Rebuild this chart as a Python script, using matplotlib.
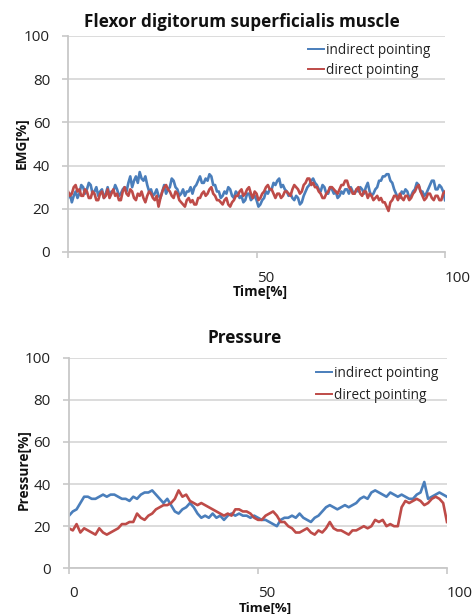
import numpy as np
import matplotlib.pyplot as plt

# EMG traces, sampled every 0.5 % of the movement
emg_indirect = [25, 27, 23, 26, 28, 25, 27, 31, 30, 27, 29, 32, 31, 27, 28, 30, 26, 28, 29, 25,
                27, 30, 26, 28, 28, 31, 29, 26, 27, 29, 30, 28, 32, 35, 30, 33, 35, 32, 37, 34,
                33, 35, 31, 28, 29, 26, 27, 29, 26, 25, 28, 31, 27, 29, 30, 34, 33, 30, 29, 26,
                27, 29, 26, 28, 28, 30, 27, 30, 31, 33, 35, 32, 32, 34, 33, 36, 35, 31, 31, 28,
                28, 25, 26, 28, 27, 30, 29, 26, 25, 28, 27, 25, 26, 23, 24, 27, 27, 24, 25, 26,
                24, 21, 22, 24, 25, 28, 27, 29, 29, 32, 31, 33, 34, 30, 31, 29, 28, 26, 27, 25,
                24, 26, 25, 22, 23, 26, 28, 30, 31, 33, 34, 32, 31, 29, 28, 31, 30, 27, 27, 30,
                29, 27, 28, 25, 26, 28, 27, 29, 29, 27, 30, 28, 27, 29, 28, 30, 29, 27, 30, 32,
                28, 26, 27, 29, 30, 33, 33, 35, 35, 36, 36, 33, 32, 29, 27, 25, 25, 28, 27, 29,
                28, 25, 26, 28, 29, 32, 31, 28, 28, 26, 27, 29, 31, 33, 33, 29, 29, 31, 30, 28,
                24]
emg_direct = [28, 26, 27, 30, 31, 28, 29, 26, 26, 29, 28, 25, 25, 28, 27, 24, 24, 27, 28, 25,
              26, 29, 25, 27, 29, 26, 27, 24, 24, 28, 30, 27, 26, 29, 28, 25, 24, 27, 26, 28,
              25, 23, 26, 28, 27, 25, 24, 26, 21, 25, 28, 30, 31, 29, 28, 26, 25, 28, 27, 24,
              23, 22, 21, 24, 25, 23, 24, 22, 22, 25, 25, 27, 28, 26, 27, 29, 30, 27, 26, 24,
              24, 23, 22, 24, 25, 22, 21, 23, 24, 26, 26, 28, 29, 26, 27, 29, 30, 27, 25, 28,
              27, 24, 25, 27, 28, 30, 31, 29, 29, 27, 25, 27, 27, 25, 26, 28, 28, 27, 26, 29,
              31, 30, 29, 27, 28, 31, 32, 34, 34, 31, 32, 30, 30, 28, 27, 25, 25, 27, 28, 30,
              30, 29, 28, 27, 29, 31, 31, 33, 33, 30, 29, 27, 27, 29, 30, 27, 26, 28, 28, 25,
              27, 26, 24, 25, 26, 24, 25, 23, 23, 21, 19, 23, 24, 26, 26, 24, 27, 25, 24, 26,
              26, 24, 25, 27, 28, 30, 31, 28, 26, 24, 25, 27, 27, 25, 24, 26, 26, 24, 24, 27,
              28]

# Pressure traces, sampled every 1 %
pres_indirect = [25, 27, 28, 31, 34, 34, 33, 33, 34, 35, 34, 35, 35, 34, 33, 33, 32, 34, 33, 35,
                 36, 36, 37, 35, 33, 31, 33, 30, 27, 26, 28, 29, 31, 29, 26, 24, 25, 24, 26, 24,
                 25, 23, 25, 26, 25, 26, 25, 25, 24, 25, 24, 23, 23, 22, 21, 20, 23, 24, 24, 25,
                 24, 26, 24, 23, 22, 24, 25, 27, 29, 30, 29, 28, 29, 30, 29, 30, 31, 33, 34, 33,
                 36, 37, 36, 35, 34, 36, 35, 34, 35, 34, 33, 33, 35, 36, 41, 33, 34, 35, 36, 35,
                 34]
pres_direct = [19, 18, 21, 17, 19, 18, 17, 16, 19, 17, 16, 17, 18, 19, 21, 21, 22, 22, 26, 24,
               23, 25, 26, 28, 29, 30, 30, 31, 33, 37, 34, 35, 32, 31, 30, 31, 30, 29, 28, 27,
               26, 25, 26, 25, 28, 28, 27, 27, 26, 24, 23, 23, 25, 26, 27, 25, 22, 22, 20, 19,
               17, 17, 18, 19, 17, 16, 18, 17, 19, 22, 19, 18, 18, 17, 16, 18, 18, 19, 20, 19,
               20, 23, 22, 23, 20, 21, 20, 20, 29, 32, 31, 32, 33, 32, 30, 31, 33, 34, 33, 31,
               22]

labels = ["indirect pointing", "direct pointing"]
blue = "#4A7EBB"
red = "#BE4B48"
grid = "#D9D9D9"

plt.rcParams['font.family'] = ['Open Sans', 'DejaVu Sans']

fig = plt.figure(figsize=(4.76, 6.14), dpi=100)


def style_axes(ax, xlabels, xpad):
    ax.set_xlim(0, 100)
    ax.set_ylim(0, 100)
    ax.set_yticks([0, 20, 40, 60, 80, 100])
    ax.set_xticks([0, 50, 100])
    ax.set_xticklabels(xlabels)
    for lab in ax.get_xticklabels():
        lab.set_horizontalalignment('left')
    ax.yaxis.grid(True, color=grid, lw=1.3)
    ax.set_axisbelow(True)
    for s in ['top', 'right']:
        ax.spines[s].set_visible(False)
    ax.spines['left'].set_color('#C8C8C8')
    ax.spines['bottom'].set_color('#C8C8C8')
    ax.spines['left'].set_linewidth(1.3)
    ax.spines['bottom'].set_linewidth(1.3)
    ax.tick_params(axis='both', colors='#C8C8C8', labelcolor='#222222', labelsize=11,
                   length=4, width=1.2)
    ax.tick_params(axis='y', pad=9)
    ax.tick_params(axis='x', pad=xpad)


def add_legend(ax, anchor, spacing):
    leg = ax.legend(loc='upper left', bbox_to_anchor=anchor, frameon=False, fontsize=9.8,
                    handlelength=1.2, handletextpad=0.15, borderpad=0, labelspacing=spacing)
    for line in leg.get_lines():
        line.set_linewidth(1.4)
    for txt in leg.get_texts():
        txt.set_color('#222222')


# top: EMG
ax1 = fig.add_axes([0.143, 0.5896, 0.792, 0.3518])
ax1.plot(np.linspace(0, 100, len(emg_indirect)), emg_indirect, color=blue, lw=1.9, label=labels[0])
ax1.plot(np.linspace(0, 100, len(emg_direct)), emg_direct, color=red, lw=1.9, label=labels[1])
style_axes(ax1, ['', '50', '100'], 10)
add_legend(ax1, (0.618, 1.0), 0.4)

# bottom: pressure
ax2 = fig.add_axes([0.145, 0.0744, 0.794, 0.343])
ax2.plot(np.linspace(0, 100, len(pres_indirect)), pres_indirect, color=blue, lw=1.9, label=labels[0])
ax2.plot(np.linspace(0, 100, len(pres_direct)), pres_direct, color=red, lw=1.9, label=labels[1])
style_axes(ax2, ['0', '50', '100'], 8.5)
add_legend(ax2, (0.635, 0.995), 0.55)

# titles and axis labels placed on the chart area like the original
fig.text(242 / 476, 1 - 22 / 614, "Flexor digitorum superficialis muscle", ha='center',
         va='center', fontsize=12.3, fontweight='bold', color='#111111')
fig.text(245 / 476, 1 - 338 / 614, "Pressure", ha='center', va='center', fontsize=12.3,
         fontweight='bold', color='#111111')
fig.text(260 / 476, 1 - 292 / 614, "Time[%]", ha='center', va='center', fontsize=9.8,
         fontweight='bold', color='#111111')
fig.text(265 / 476, 1 - 608.5 / 614, "Time[%]", ha='center', va='center', fontsize=9.5,
         fontweight='bold', color='#111111')
fig.text(22 / 476, 1 - 143 / 614, "EMG[%]", ha='center', va='center', rotation=90,
         fontsize=9.8, fontweight='bold', color='#111111')
fig.text(24 / 476, 1 - 470 / 614, "Pressure[%]", ha='center', va='center', rotation=90,
         fontsize=9.8, fontweight='bold', color='#111111')

fig.savefig("out.png", dpi=100)
